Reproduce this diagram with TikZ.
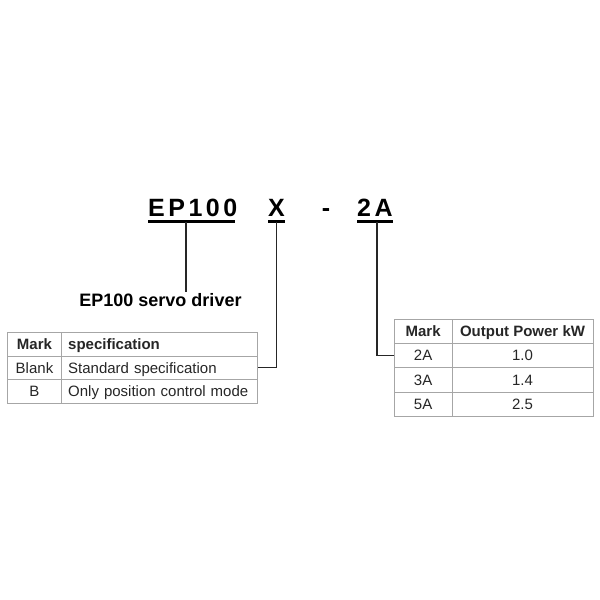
\documentclass[tikz,border=0pt]{standalone}
\usepackage{fontspec}
\setmainfont{Liberation Sans}
\newfontfamily\titlefont[LetterSpace=14]{Liberation Sans}
\usepackage{tikz}
\usetikzlibrary{positioning}

\tikzset{
	title/.style={inner sep=0pt, font=\titlefont\bfseries\fontsize{25}{30}\selectfont},
	uline/.style={line width=2.6pt},
	conn/.style={line width=1.2pt, black!85},
	drv/.style={inner sep=1pt, font=\bfseries\fontsize{18}{22}\selectfont},
	lcell/.style={draw=gray!70, line width=0.8pt, inner sep=0pt, outer sep=0pt, minimum height=23.7pt, minimum width=54.4pt, text height=13.5pt, text depth=2.7pt, text=black!85, font=\fontsize{15}{18}\selectfont, anchor=north west},
	rcell/.style={lcell, minimum height=24.3pt, minimum width=57.7pt},
	head/.style={font=\bfseries\fontsize{15}{18}\selectfont},
	lwide/.style={minimum width=196pt, text width=183pt, align=left, inner xsep=6.5pt},
	rwide/.style={minimum width=141pt}
}

\begin{document}
\begin{tikzpicture}[x=1pt,y=-1pt]
	\useasboundingbox (0,0) rectangle (600,600);

	% Model code %
	\node (ep) [title, anchor=base west] at (148,216.7) {EP100};
	\node (xm) [title, anchor=base west] at (268,216.7) {X};
	\node (dash) [title, anchor=base] at (326,216.7) {-};
	\node (pw) [title, anchor=base west] at (357,216.7) {2A};
	\draw [uline] ([yshift=-5pt]ep.base west) -- ([yshift=-5pt,xshift=-2pt]ep.base east);
	\draw [uline] ([yshift=-5pt]xm.base west) -- ([yshift=-5pt]xm.base east);
	\draw [uline] ([yshift=-5pt]pw.base west) -- ([yshift=-5pt]pw.base east);

	% Driver label %
	\node (drv) [drv, anchor=base] at (160.5,306) {EP100 servo driver};
	\coordinate (eptap) at (186,222);
	\draw [conn] (eptap) -- (eptap |- drv.north);

	% Specification table %
	\node (lm0) [lcell, head] at (7.3,332.3) {Mark};
	\node (ls0) [lcell, lwide, head, right=0pt of lm0] {specification};
	\node (lm1) [lcell, below=0pt of lm0] {Blank};
	\node (ls1) [lcell, lwide, right=0pt of lm1] {Standard specification};
	\node (lm2) [lcell, below=0pt of lm1] {B};
	\node (ls2) [lcell, lwide, right=0pt of lm2] {\mbox{Only position control mode}};

	% Power table %
	\node (rm0) [rcell, head] at (394.3,319) {Mark};
	\node (rp0) [rcell, rwide, head, right=0pt of rm0] {Output Power kW};
	\node (rm1) [rcell, below=0pt of rm0] {2A};
	\node (rp1) [rcell, rwide, right=0pt of rm1] {1.0};
	\node (rm2) [rcell, below=0pt of rm1] {3A};
	\node (rp2) [rcell, rwide, right=0pt of rm2] {1.4};
	\node (rm3) [rcell, below=0pt of rm2] {5A};
	\node (rp3) [rcell, rwide, right=0pt of rm3] {2.5};

	% Connectors %
	\coordinate (xtap) at ([yshift=-5pt]xm.base);
	\coordinate (pwtap) at ([xshift=2pt,yshift=-5pt]pw.base);
	\draw [conn] (xtap) |- (ls1.east);
	\draw [conn] (pwtap) |- (rm1.west);
\end{tikzpicture}
\end{document}
